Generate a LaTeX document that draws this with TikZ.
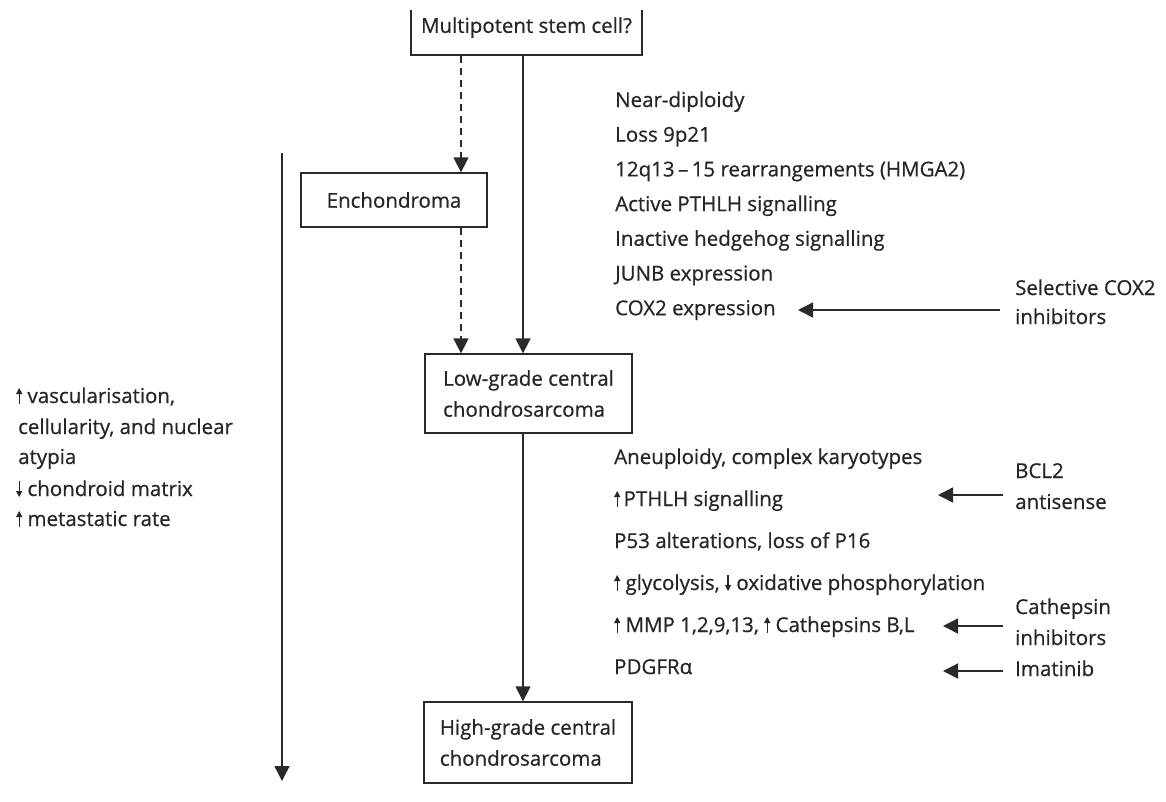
\documentclass[tikz,border=0pt]{standalone}
\usepackage{fontspec}
\setmainfont[FakeBold=0.6]{Open Sans}
\usetikzlibrary{arrows.meta,calc}
\definecolor{ink}{HTML}{262626}
\definecolor{ln}{HTML}{2A2A2A}
\newcommand\uparr{\tikz[baseline=0pt]\draw[line width=1.1pt,-{Triangle[length=6pt,width=6pt]}](0pt,-1pt)--(0pt,15pt);}
\newcommand\dnarr{\tikz[baseline=0pt]\draw[line width=1.1pt,-{Triangle[length=6pt,width=6pt]}](0pt,15pt)--(0pt,-1pt);}
\begin{document}
\begin{tikzpicture}[x=1pt,y=-1pt,
  txt/.style={font=\fontsize{20.5}{31}\selectfont, text=ink, inner sep=0pt, anchor=base west},
  box/.style={draw=ln, line width=1.3pt, text=ink, font=\fontsize{20.5}{31}\selectfont, inner sep=0pt, align=left},
  arr/.style={draw=ln, line width=1.4pt, -{Triangle[length=15pt,width=15pt]}},
  darr/.style={arr, dash pattern=on 7pt off 5pt}]
\useasboundingbox (0,0) rectangle (1166,801);
\fill[white] (0,0) rectangle (1166,801);
\begin{scope}
\clip (0,10) rectangle (1166,801);
\node[box, minimum width=231pt, minimum height=55pt] (ms) at (526.5,27.5) {Multipotent stem cell?};
\end{scope}
\node[box, minimum width=186pt, minimum height=54pt] (en) at (394,200) {Enchondroma};
\node[box, minimum width=207pt, minimum height=79pt] (lg) at (528.5,393.5) {Low-grade central\\chondrosarcoma};
\node[box, minimum width=208pt, minimum height=81pt] (hg) at (528,742.5) {High-grade central\\chondrosarcoma};

\coordinate (dx) at (461,0);
\coordinate (sx) at (523,0);
\draw[darr] (ms.south -| dx) -- (en.north -| dx);
\draw[darr] (en.south -| dx) -- (lg.north -| dx);
\draw[arr] (ms.south -| sx) -- (lg.north -| sx);
\draw[arr] (lg.south -| sx) -- (hg.north -| sx);

\coordinate (lt) at (282,153);
\coordinate (lb) at (282,781);
\draw[arr] (lt) -- (lb);

\node[txt] (l1) at (16,403) {\uparr\ vascularisation,};
\node[txt] (l2) at (18,434) {cellularity, and nuclear};
\node[txt] (l3) at (18,464) {atypia};
\node[txt] (l4) at (16,496) {\dnarr\ chondroid matrix};
\node[txt] (l5) at (16,526) {\uparr\ metastatic rate};

\node[txt] (u1) at (615,107) {Near-diploidy};
\node[txt] (u2) at (615,141.7) {Loss 9p21};
\node[txt] (u3) at (615,176.4) {12q13\,–\,15 rearrangements (HMGA2)};
\node[txt] (u4) at (615,211.1) {Active PTHLH signalling};
\node[txt] (u5) at (615,245.8) {Inactive hedgehog signalling};
\node[txt] (u6) at (615,280.5) {JUNB expression};
\node[txt] (u7) at (615,315.2) {COX2 expression};

\node[txt] (d1) at (614,464) {Aneuploidy, complex karyotypes};
\node[txt] (d2) at (614,506) {\uparr\,PTHLH signalling};
\node[txt] (d3) at (614,548) {P53 alterations, loss of P16};
\node[txt] (d4) at (614,590) {\uparr\ glycolysis, \dnarr\ oxidative phosphorylation};
\node[txt] (d5) at (614,632) {\uparr\ MMP 1,2,9,13, \uparr\ Cathepsins B,L};
\node[txt] (d6) at (614,674) {PDGFRα};

\node[txt] (sel) at (1015,295) {Selective COX2};
\node[txt] (sel2) at (1015,324) {inhibitors};
\node[txt] (bcl) at (1015,478) {BCL2};
\node[txt] (bcl2) at (1015,509) {antisense};
\node[txt] (cat) at (1015,614) {Cathepsin};
\node[txt] (cat2) at (1015,645) {inhibitors};
\node[txt] (ima) at (1015,676) {Imatinib};

\coordinate (t1) at (798,310);
\coordinate (t2) at (938,495);
\coordinate (t3) at (943,626);
\coordinate (t4) at (943,671);
\draw[arr] ($(sel.west |- t1)+(-15,0)$) -- (t1);
\draw[arr] ($(bcl.west |- t2)+(-12,0)$) -- (t2);
\draw[arr] ($(cat.west |- t3)+(-12,0)$) -- (t3);
\draw[arr] ($(ima.west |- t4)+(-12,0)$) -- (t4);
\end{tikzpicture}
\end{document}
